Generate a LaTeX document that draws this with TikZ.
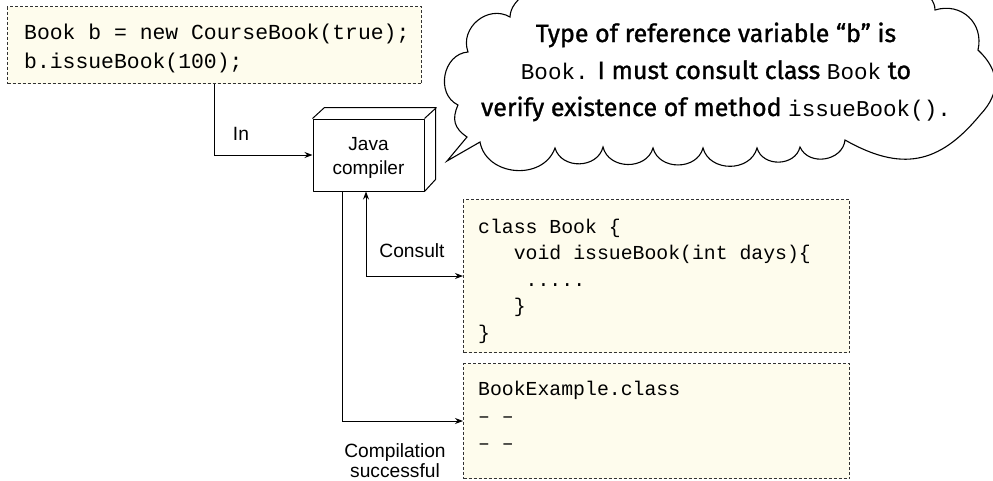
\documentclass[tikz,border=0pt]{standalone}
\usepackage{fontspec}
\setmainfont{Liberation Sans}
\setmonofont{Liberation Mono}
\newfontfamily\handfont[FakeBold=1.2]{Fira Sans}
\usetikzlibrary{arrows.meta}
\definecolor{codefill}{RGB}{254,252,237}
\definecolor{dashgray}{RGB}{50,50,50}
\tikzset{
  codebox/.style={draw=dashgray, fill=codefill, line width=1pt,
    dash pattern=on 3pt off 2pt, minimum width=#1, inner sep=0pt},
  codeA/.style={anchor=base west, inner sep=0pt, font=\fontsize{21.4}{29}\selectfont\ttfamily},
  codeB/.style={anchor=base west, inner sep=0pt, font=\fontsize{19.8}{26}\selectfont\ttfamily},
  lbl/.style={anchor=base, inner sep=0pt, font=\fontsize{19.2}{23}\selectfont},
  hand/.style={anchor=base, inner sep=0pt, font=\fontsize{25}{29}\selectfont\handfont},
  conn/.style={line width=1pt, -{Stealth[length=8pt,width=6pt]}},
  biconn/.style={line width=1pt, {Stealth[length=8pt,width=6pt]}-{Stealth[length=8pt,width=6pt]}},
  boxline/.style={line width=1pt, line join=round},
  cloudline/.style={line width=1.1pt, fill=white, looseness=1.2}
}
\newcommand{\cm}[1]{{\fontsize{22.6}{25}\selectfont\ttfamily #1}}
\begin{document}
\begin{tikzpicture}[x=1pt,y=1pt]
\useasboundingbox (0,0) rectangle (993,-480);

% source box
\node[codebox=414, minimum height=77, anchor=north west] (src) at (7,-6) {};
\node[codeA] (s1) at (24,-39) {Book b = new CourseBook(true);};
\node[codeA] (s2) at (24,-68) {b.issueBook(100);};

% Java compiler
\node[boxline, draw, fill=white, minimum width=111, minimum height=72] (jc) at (368.5,-155) {};
\draw[boxline] (jc.north west) -- ++(12,11) -- ++(111,0) -- ++(0,-72) -- (jc.south east);
\draw[boxline] (jc.north east) -- ++(12,11);
\node[lbl, font=\fontsize{19}{23}\selectfont] (jc1) at (368.5,-150) {Java};
\node[lbl, font=\fontsize{19}{23}\selectfont] (jc2) at (368.5,-174) {compiler};

% class Book box
\node[codebox=386, minimum height=153, anchor=north west] (cls) at (463,-199) {};
\node[codeB] (c1) at (478,-233) {class Book \{};
\node[codeB] (c2) at (478,-259.5) {\ \ \ void issueBook(int days)\{};
\node[codeB] (c3) at (478,-286) {\ \ \ \ .....};
\node[codeB] (c4) at (478,-312.5) {\ \ \ \}};
\node[codeB] (c5) at (478,-339) {\}};

% output box
\node[codebox=386, minimum height=115, anchor=north west] (out) at (463,-363) {};
\node[codeB] (o1) at (478,-395) {BookExample.class};
\node[codeB] (o2) at (478,-422) {– –};
\node[codeB] (o3) at (478,-449) {– –};

% connectors
\draw[conn] (src.south) |- (jc.west);
\draw[biconn] ([xshift=-2.5pt]jc.south) |- (cls.west);
\draw[conn] ([xshift=-26.5pt]jc.south) |- (out.west);

% labels
\node[lbl] (lin) at (241,-140) {In};
\node[lbl] (lcons) at (412,-257) {Consult};
\node[lbl] (lcomp) at (395,-457) {Compilation};
\node[lbl] (lsucc) at (395,-477) {successful};

% thought cloud
\draw[cloudline] (935,-10) .. controls (935,60) and (512,60) .. (510,-17)
  to[bend right=70] (468,-52)
  to[bend right=75] (458,-105)
  to[bend right=40] (467,-137)
  -- (447,-161) -- (480,-142)
  to[bend right=75] (555,-148)
  to[bend right=75] (603,-147)
  to[bend right=75] (653,-148)
  to[bend right=75] (703,-148)
  to[bend right=75] (757,-148)
  to[bend right=75] (800,-147)
  to[bend right=75] (845,-140)
  to[bend right=40] (980,-115)
  to[bend right=45] (978,-50)
  to[bend right=60] (935,-10) -- cycle;
\node[hand] (t1) at (716,-42) {Type of reference variable “b” is};
\node[hand] (t2) at (716,-79) {\cm{Book.} I must consult class \cm{Book} to};
\node[hand] (t3) at (716,-116) {verify existence of method \cm{issueBook().}};
\end{tikzpicture}
\end{document}
